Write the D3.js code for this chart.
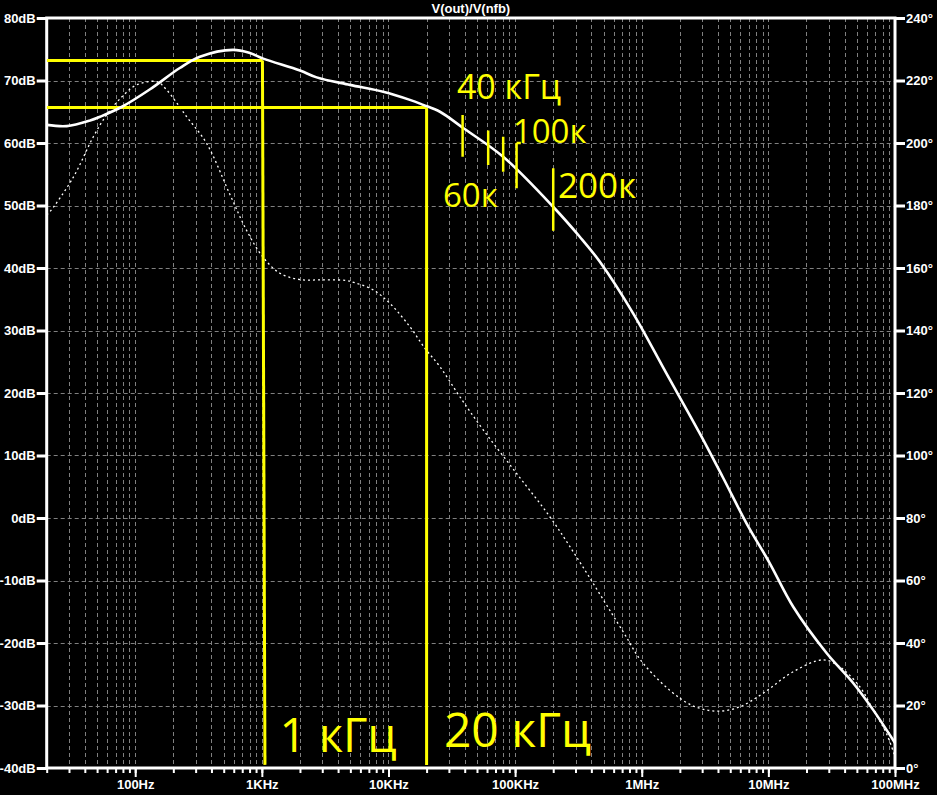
<!DOCTYPE html>
<html>
<head>
<meta charset="utf-8">
<script src="https://cdn.jsdelivr.net/npm/d3@7"></script>
<style>
html,body{margin:0;padding:0;background:#000;}
svg{display:block;}
</style>
</head>
<body>
<svg id="chart" width="937" height="795"></svg>
<script>
// ---------- DATA ----------
const title = "V(out)/V(nfb)";

// magnitude (dB) of V(out)/V(nfb)
const magFreq = [20, 28.8, 44, 52.7, 78.6, 131, 225, 324, 592, 805, 1026, 2000, 2710, 4960, 9080, 14760, 18800, 25500, 38900, 80500, 199600, 324000, 467000, 855000, 1.57e6, 2.88e6, 4.4e6, 6.72e6, 10.26e6, 15.7e6, 28.8e6, 46.7e6, 67.2e6, 1e8];
const magDb   = [62.9, 62.7, 63.6, 64.2, 65.8, 68.6, 72.0, 73.8, 74.9, 74.4, 73.5, 71.6, 70.5, 69.3, 68.2, 66.9, 66.1, 65.0, 62.4, 57.8, 49.8, 45.0, 41.0, 32.75, 23.1, 13.5, 6.4, -0.85, -7.25, -14.2, -21.6, -26.4, -30.7, -36.0];

// phase (degrees)
const phFreq = [20, 21.2, 32.4, 46.7, 59.5, 78.6, 102.7, 148.5, 177, 255, 366, 560, 759, 1020, 1390, 2000, 3000, 4670, 5400, 7570, 10250, 14760, 19400, 25500, 36600, 56000, 102600, 188000, 305000, 713000, 1.026e6, 2.0e6, 2.88e6, 4.14e6, 5.96e6, 9.08e6, 15.7e6, 27e6, 36.6e6, 52.7e6, 67.2e6, 85.5e6, 1e8];
const phDeg  = [177, 178, 189, 202, 209.0, 214.8, 218.6, 219.6, 217, 208.4, 199.9, 183.5, 172, 163.5, 158.3, 156.3, 156.2, 156.0, 155.3, 153, 148.7, 141.2, 134.3, 128.4, 118.8, 108.2, 94.3, 80.4, 67.6, 43.6, 33.5, 22.3, 19.1, 18.2, 19.6, 23.9, 30.8, 34.6, 32.4, 26, 18.6, 11.1, 3.6];

// axis ticks
const dbTicks = [-40, -30, -20, -10, 0, 10, 20, 30, 40, 50, 60, 70, 80];
const degTicks = [0, 20, 40, 60, 80, 100, 120, 140, 160, 180, 200, 220, 240];
const freqMajor = [100, 1e3, 1e4, 1e5, 1e6, 1e7, 1e8];
const freqLabels = ["100Hz", "1KHz", "10KHz", "100KHz", "1MHz", "10MHz", "100MHz"];

// yellow annotations: reference lines [f1, db1, f2, db2]
const refLines = [
  [20, 73.2, 1011, 73.2],
  [1011, 73.2, 1058, -39.5],
  [20, 65.7, 20000, 65.7],
  [20000, 65.7, 20000, -39.5]
];
// marker ticks [f, dbTop, dbBottom]
const markFreq = [38500, 61300, 80500, 102700, 200000];
const markTop  = [64.5, 62.0, 61.0, 60.0, 55.95];
const markBot  = [57.8, 56.5, 55.4, 52.75, 45.97];
const stub = [102700, 60.0, 111000, 60.0];
// annotation texts
const noteText = ["1 кГц", "20 кГц", "40 кГц", "100к", "60к", "200к"];
const noteFreq = [1380, 27400, 34700, 96000, 26900, 217800];
const noteDb   = [-37.4, -36.6, 67.0, 59.95, 49.8, 51.15];
const noteSize = [47, 48, 34, 33, 33, 35];

// ---------- CHART ----------
const svg = d3.select("#chart");
const L = 46.7, R = 895, T = 18, B = 768;
const x = d3.scaleLog().domain([20, 1e8]).range([L, R]);
const y = d3.scaleLinear().domain([-40, 80]).range([B, T]);
const yp = d3.scaleLinear().domain([0, 240]).range([B, T]);

svg.append("rect").attr("width", 937).attr("height", 795).attr("fill", "#000");

// minor frequency positions
const minor = [];
for (let k = 1; k <= 8; k++) {
  for (let m = 1; m <= 9; m++) {
    const f = m * Math.pow(10, k);
    if (f >= 20 && f <= 1e8) minor.push(f);
  }
}

// grid
const grid = svg.append("g").attr("stroke", "#808080").attr("stroke-width", 1).attr("stroke-dasharray", "4,3");
grid.selectAll("line.v").data(minor.filter(f => f > 20 && f < 1e8)).enter().append("line")
  .attr("x1", d => Math.round(x(d)) + 0.5).attr("x2", d => Math.round(x(d)) + 0.5)
  .attr("y1", T).attr("y2", B);
grid.selectAll("line.h").data(dbTicks.filter(d => d > -40 && d < 80)).enter().append("line")
  .attr("x1", L).attr("x2", R)
  .attr("y1", d => Math.round(y(d)) + 0.5).attr("y2", d => Math.round(y(d)) + 0.5);

const axisFont = "'Liberation Sans', Arial, sans-serif";

// left axis
const ax1 = svg.append("g").attr("transform", `translate(${L},0)`)
  .call(d3.axisLeft(y).tickValues(dbTicks).tickFormat(d => d + "dB").tickSize(10).tickPadding(1));
// right axis
const ax2 = svg.append("g").attr("transform", `translate(${R},0)`)
  .call(d3.axisRight(yp).tickValues(degTicks).tickFormat(d => d + "°").tickSize(10).tickPadding(1));
// bottom minor ticks
const ax3 = svg.append("g").attr("transform", `translate(0,${B})`)
  .call(d3.axisBottom(x).tickValues(minor).tickFormat("").tickSize(5));
// bottom major ticks with labels
const ax4 = svg.append("g").attr("transform", `translate(0,${B})`)
  .call(d3.axisBottom(x).tickValues(freqMajor).tickFormat((d, i) => freqLabels[i]).tickSize(9).tickPadding(3));

[ax1, ax2, ax3, ax4].forEach(a => {
  a.select(".domain").remove();
  a.selectAll(".tick line").attr("stroke", "#fff").attr("stroke-width", 3);
  a.selectAll(".tick text").attr("fill", "#fff").attr("font-family", axisFont)
    .attr("font-weight", "bold").attr("font-size", 13);
});
ax3.selectAll(".tick line").attr("stroke-width", 2);
ax4.selectAll(".tick line").attr("stroke-width", 2);

// frame
svg.append("rect").attr("x", L).attr("y", T).attr("width", R - L).attr("height", B - T)
  .attr("fill", "none").attr("stroke", "#fff").attr("stroke-width", 3);

// title
svg.append("text").attr("x", (L + R) / 2).attr("y", 13).attr("text-anchor", "middle")
  .attr("fill", "#fff").attr("font-family", axisFont).attr("font-weight", "bold").attr("font-size", 13)
  .text(title);

// clip
svg.append("clipPath").attr("id", "clip").append("rect").attr("x", L).attr("y", T).attr("width", R - L).attr("height", B - T);
const plot = svg.append("g").attr("clip-path", "url(#clip)");

// phase (dotted)
const phLine = d3.line().x((d, i) => x(phFreq[i])).y(d => yp(d)).curve(d3.curveCatmullRom.alpha(0.5));
plot.append("path").attr("d", phLine(phDeg)).attr("fill", "none").attr("stroke", "#fff")
  .attr("stroke-width", 1.3).attr("stroke-dasharray", "2,3");

// yellow annotations
const yel = "#ffff00";
plot.selectAll("line.ref").data(refLines).enter().append("line")
  .attr("x1", d => x(d[0])).attr("y1", d => y(d[1])).attr("x2", d => x(d[2])).attr("y2", d => y(d[3]))
  .attr("stroke", yel).attr("stroke-width", 3);

// magnitude (solid)
const magLine = d3.line().x((d, i) => x(magFreq[i])).y(d => y(d)).curve(d3.curveCatmullRom.alpha(0.5));
plot.append("path").attr("d", magLine(magDb)).attr("fill", "none").attr("stroke", "#fff")
  .attr("stroke-width", 2.6);

plot.selectAll("line.mark").data(markFreq).enter().append("line")
  .attr("x1", d => x(d)).attr("x2", d => x(d))
  .attr("y1", (d, i) => y(markTop[i])).attr("y2", (d, i) => y(markBot[i]))
  .attr("stroke", yel).attr("stroke-width", 2.5);
plot.append("line").attr("x1", x(stub[0])).attr("y1", y(stub[1])).attr("x2", x(stub[2])).attr("y2", y(stub[3]))
  .attr("stroke", yel).attr("stroke-width", 2.5);

svg.selectAll("text.note").data(noteText).enter().append("text")
  .attr("x", (d, i) => x(noteFreq[i])).attr("y", (d, i) => y(noteDb[i]))
  .attr("fill", yel).attr("font-family", "'Open Sans', 'Noto Sans', sans-serif")
  .attr("font-size", (d, i) => noteSize[i]).text(d => d);
</script>
</body>
</html>
